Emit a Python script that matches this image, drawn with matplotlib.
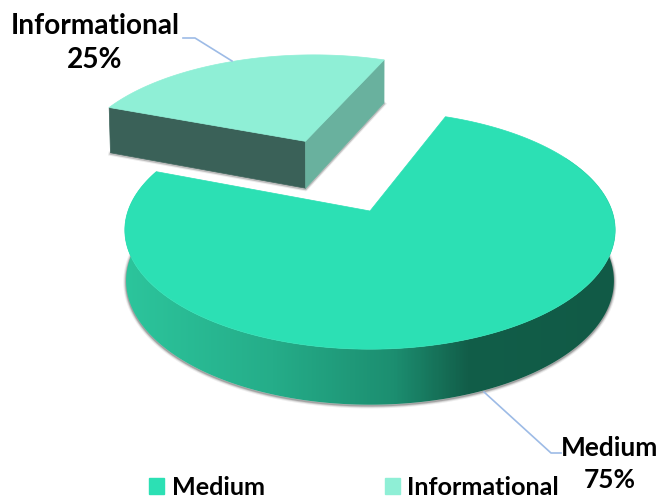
import numpy as np
import matplotlib
matplotlib.use("Agg")
import matplotlib.pyplot as plt
from matplotlib.colors import LinearSegmentedColormap
from matplotlib.patches import Patch, Polygon

plt.rcParams['font.family'] = ['Lato', 'DejaVu Sans']

labels = ['Medium', 'Informational']
values = [75, 25]

top_colors = ['#2ce0b4', '#8fefd6']
info_left = '#3a6158'
info_right = '#69b19e'
leader = '#9dbbe6'
side_cmap = LinearSegmentedColormap.from_list(
    'side', [(0, '#2cc59c'), (0.3, '#25ad89'), (0.55, '#1c8e70'), (0.7, '#125e49'), (1, '#115a46')])

# perspective of the pie, in pixels of the picture
CX, A, B, C = 370, 211, -82.3, 0.16
RX = 242
DEPTH = 50
START = 69
EXPLODE = 0.727
SLICE_U = 1.03
SLICE_V = 1.05


def project(u, v, z=0):
    w = 1 + C * v
    x = RX * u / w
    y = (A + B * v) / w
    if z:
        x = x * 0.995
        y = y + DEPTH / (1 + 0.1 * v)
    return CX + x, y


def main():
    fig = plt.figure(figsize=(6.6, 5), dpi=100)
    ax = fig.add_axes([0, 0, 1, 1])
    ax.axis('off')

    total = sum(values)
    a0 = START
    a1 = a0 - 360 * values[0] / total
    a2 = a1 - 360 * values[1] / total

    # Medium slice
    t = np.radians(np.linspace(a0, a1, 500))
    u, v = np.cos(t), np.sin(t)
    bx, by = project(u, v, 1)
    tx, ty = project(u, v)

    front = v < 0.1
    for lw, alpha in [(4, 0.1), (2.5, 0.2), (1.2, 0.35)]:
        ax.plot(bx[front], by[front] + 1, color='#555555', lw=lw, alpha=alpha, zorder=1)

    wide = v < 0.5
    side = Polygon(np.r_[np.c_[tx[wide], ty[wide]], np.c_[bx[wide], by[wide]][::-1]], closed=True,
                   fc='none', ec='none', transform=ax.transData)
    ax.add_patch(side)
    img = ax.imshow(np.linspace(0, 1, 400)[None, :], cmap=side_cmap, extent=[124, 616, 420, 150], aspect='auto',
                    zorder=2)
    img.set_clip_path(side)

    ax_, ay_ = project(0, 0)
    ax.add_patch(Polygon(np.r_[[[ax_, ay_]], np.c_[tx, ty]], closed=True, fc=top_colors[0], ec=top_colors[0],
                         lw=0.5, zorder=3))

    # Informational slice, pulled out along its own middle
    mid = np.radians((a1 + a2) / 2)
    ou, ov = EXPLODE * np.cos(mid), EXPLODE * np.sin(mid)
    t = np.radians(np.linspace(a1, a2, 150))
    u, v = SLICE_U * np.cos(t) + ou, SLICE_V * np.sin(t) + ov
    tx, ty = project(u, v)
    px, py = project(ou, ov)
    pbx, pby = project(ou, ov, 1)
    lx, ly = project(u[0], v[0], 1)
    rx, ry = project(u[-1], v[-1], 1)

    for lw, alpha in [(3, 0.12), (1.5, 0.3)]:
        ax.plot([lx, pbx, rx], [ly + 1, pby + 1, ry + 1], color='#555555', lw=lw, alpha=alpha, zorder=4)
    ax.add_patch(Polygon([(tx[0], ty[0]), (px, py), (pbx, pby), (lx, ly)], closed=True, fc=info_left,
                         ec=info_left, lw=0.5, zorder=5))
    ax.add_patch(Polygon([(tx[-1], ty[-1]), (px, py), (pbx, pby), (rx, ry)], closed=True, fc=info_right,
                         ec=info_right, lw=0.5, zorder=5))
    ax.add_patch(Polygon(np.r_[[[px, py]], np.c_[tx, ty]], closed=True, fc=top_colors[1], ec=top_colors[1],
                         lw=0.5, zorder=6))

    # leader lines and data labels
    ax.plot([183, 195, 232], [38, 38, 61], color=leader, lw=1.2, zorder=7)
    ax.plot([484, 551, 561], [392, 453, 453], color=leader, lw=1.2, zorder=1)
    ax.text(95, 43, f'{labels[1]}\n{values[1]}%', ha='center', va='center', fontsize=20.2, fontweight='bold',
            linespacing=1.4, color='black')
    ax.text(610, 464, f'{labels[0]}\n{values[0]}%', ha='center', va='center', fontsize=18.9, fontweight='bold',
            linespacing=1.38, color='black')

    ax.set_xlim(0, 660)
    ax.set_ylim(500, 0)

    handles = [Patch(color=c, label=l) for c, l in zip(top_colors, labels)]
    ax.legend(handles=handles, loc='lower left', bbox_to_anchor=(126 / 660, -0.043), ncols=2, frameon=False,
              prop={'weight': 'bold', 'size': 18.2}, handlelength=0.6, handleheight=0.6,
              handletextpad=0.3, columnspacing=4.75)

    fig.savefig('out.png', dpi=100, facecolor='white')


if __name__ == "__main__":
    main()
